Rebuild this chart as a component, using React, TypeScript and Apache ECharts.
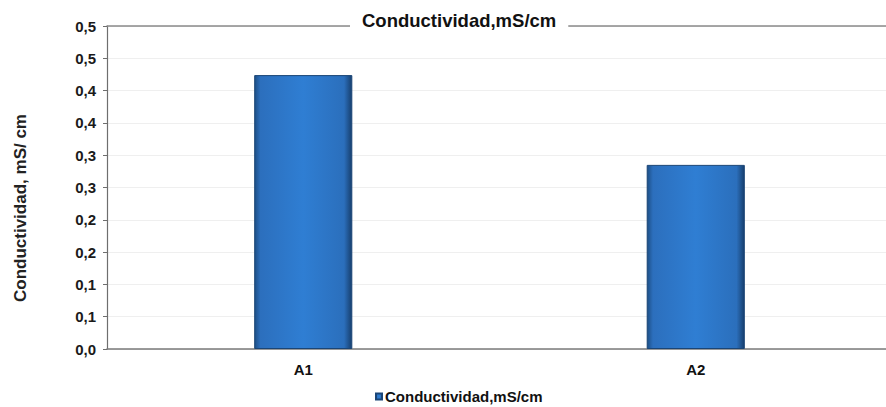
import React, { useEffect, useRef } from "react";
import * as echarts from "echarts";

const categories = ["A1", "A2"];
const conductividad = [0.424, 0.285];
const yTickLabels = ["0,0", "0,1", "0,1", "0,2", "0,2", "0,3", "0,3", "0,4", "0,4", "0,5", "0,5"];
const seriesName = "Conductividad,mS/cm";
const titleText = "Conductividad,mS/cm";
const yAxisTitle = "Conductividad, mS/ cm";

const FONT = "'Liberation Sans', Arial, sans-serif";

export default function App() {
  const ref = useRef<HTMLDivElement>(null);
  useEffect(() => {
    if (!ref.current) return;
    const chart = echarts.init(ref.current, null, { renderer: "svg" });
    const barGradient = new echarts.graphic.LinearGradient(0, 0, 1, 0, [
      { offset: 0, color: "#1d4f86" },
      { offset: 0.06, color: "#2c6fbd" },
      { offset: 0.5, color: "#2f7ed3" },
      { offset: 0.92, color: "#2b6fbc" },
      { offset: 1, color: "#173f6e" },
    ]);
    chart.setOption({
      animation: false,
      backgroundColor: "#ffffff",
      title: {
        text: titleText,
        left: 350,
        top: 11,
        padding: [0, 12, 3, 12],
        backgroundColor: "#ffffff",
        textStyle: { fontFamily: FONT, fontWeight: "bold", fontSize: 18.5, color: "#111" },
      },
      graphic: [
        {
          type: "text",
          x: 20,
          y: 208,
          rotation: Math.PI / 2,
          style: {
            text: yAxisTitle,
            fontFamily: FONT,
            fontWeight: "bold",
            fontSize: 17,
            fill: "#222",
            align: "center",
            verticalAlign: "middle",
          },
        },
      ],
      legend: {
        data: [seriesName],
        left: 370,
        top: 384,
        icon: "rect",
        itemWidth: 6,
        itemHeight: 6,
        itemGap: 4,
        textStyle: { fontFamily: FONT, fontWeight: "bold", fontSize: 15, color: "#111", padding: [0, 0, 0, -2] },
      },
      grid: { left: 107, right: 0, top: 26, bottom: 58, containLabel: false },
      xAxis: [
        {
          type: "category",
          data: categories,
          axisLine: { lineStyle: { color: "#7a7a7a", width: 1.5 } },
          axisTick: { show: false },
          axisLabel: { fontFamily: FONT, fontWeight: "bold", fontSize: 15, color: "#111", margin: 13 },
          splitLine: { show: false },
        },
        {
          type: "category",
          data: categories,
          position: "top",
          axisLine: { lineStyle: { color: "#8a8a8a", width: 1.5 } },
          axisTick: { show: false },
          axisLabel: { show: false },
        },
      ],
      yAxis: {
        type: "value",
        min: 0,
        max: 0.5,
        interval: 0.05,
        axisLine: { show: true, lineStyle: { color: "#6e6e6e", width: 1.2 } },
        axisTick: { show: true, length: 4, lineStyle: { color: "#6e6e6e" } },
        axisLabel: {
          fontFamily: FONT,
          fontWeight: "bold",
          fontSize: 15,
          color: "#1a1a1a",
          margin: 11,
          formatter: (v: number) => yTickLabels[Math.round(v / 0.05)] ?? "",
        },
        splitLine: { show: true, lineStyle: { color: "#efefef", width: 1 } },
      },
      series: [
        {
          name: seriesName,
          type: "bar",
          data: conductividad,
          barWidth: "25%",
          itemStyle: { color: barGradient, borderColor: "#1a4576", borderWidth: 1 },
        },
      ],
    });
    return () => chart.dispose();
  }, []);
  return (
    <div style={{ width: 886, height: 407, position: "absolute", left: 0, top: 0, overflow: "hidden" }}>
      <div ref={ref} style={{ width: 892, height: 407 }} />
    </div>
  );
}
